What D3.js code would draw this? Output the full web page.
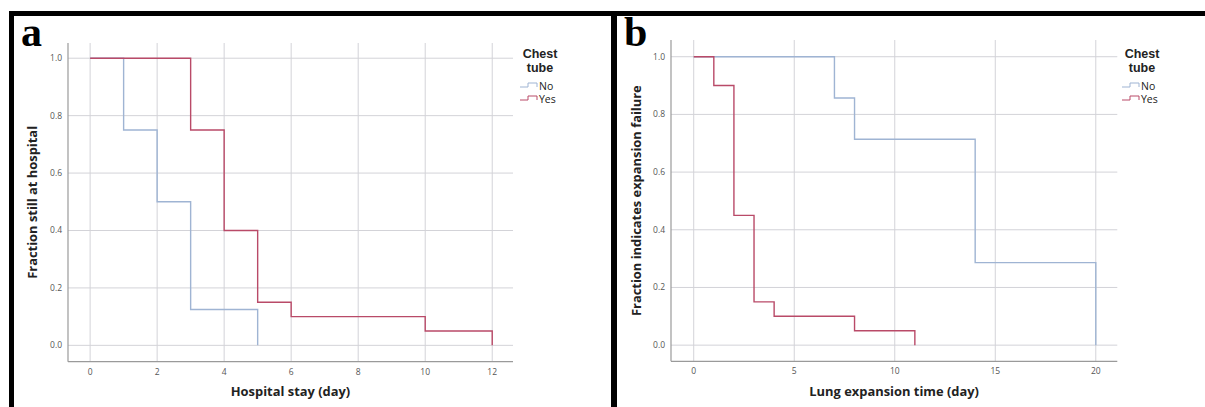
<!DOCTYPE html>
<html>
<head>
<meta charset="utf-8">
<script src="https://cdn.jsdelivr.net/npm/d3@7"></script>
<style>
  body { margin: 0; background: #fff; }
  svg { display: block; }
  .tick-label { font-family: "Open Sans", "DejaVu Sans", sans-serif; font-size: 8.5px; fill: #555; }
  .axis-title { font-family: "Open Sans", "DejaVu Sans", sans-serif; font-size: 12.9px; font-weight: bold; fill: #222; }
  .legend-title { font-family: "Liberation Sans", "DejaVu Sans", sans-serif; font-size: 12.5px; font-weight: bold; fill: #222; }
  .legend-item { font-family: "Open Sans", "DejaVu Sans", sans-serif; font-size: 10.5px; fill: #222; }
  .panel-letter { font-family: "Liberation Serif", "DejaVu Serif", serif; font-size: 42px; font-weight: bold; fill: #000; }
</style>
</head>
<body>
<svg id="chart" width="1205" height="407"></svg>
<script>
const width = 1205;
const height = 407;

// panel a: hospital stay, step functions (time, fraction)
const stayTimesNo = [0, 1, 2, 3, 5, 5];
const stayFracNo = [1.0, 0.75, 0.5, 0.125, 0.125, 0.0];
const stayTimesYes = [0, 3, 4, 5, 6, 10, 12, 12];
const stayFracYes = [1.0, 0.75, 0.4, 0.15, 0.1, 0.05, 0.05, 0.0];
const stayTicks = [0, 2, 4, 6, 8, 10, 12];

// panel b: lung expansion time
const lungTimesNo = [0, 7, 8, 14, 20, 20];
const lungFracNo = [1.0, 0.857, 0.714, 0.286, 0.286, 0.0];
const lungTimesYes = [0, 1, 2, 3, 4, 8, 11, 11];
const lungFracYes = [1.0, 0.9, 0.45, 0.15, 0.1, 0.05, 0.05, 0.0];
const lungTicks = [0, 5, 10, 15, 20];

const fracTicks = [0.0, 0.2, 0.4, 0.6, 0.8, 1.0];
const groups = ["No", "Yes"];
const legendTitle = ["Chest", "tube"];

const colors = { No: "#9fb4d3", Yes: "#b94a68" };

const svg = d3.select("#chart");

// black frame (top bar, left bar, middle divider)
svg.append("rect").attr("x", 9).attr("y", 11).attr("width", width - 9).attr("height", 5).attr("fill", "#000");
svg.append("rect").attr("x", 9).attr("y", 11).attr("width", 5).attr("height", height - 11).attr("fill", "#000");
svg.append("rect").attr("x", 611).attr("y", 11).attr("width", 6).attr("height", height - 11).attr("fill", "#000");

const panels = [
  {
    letter: "a", letterX: 21, letterY: 46,
    left: 68, right: 513, top: 43, bottom: 361.7,
    xDomain: [-0.66, 12.62], yDomain: [-0.057, 1.053],
    ticks: stayTicks,
    xTitle: "Hospital stay (day)", yTitle: "Fraction still at hospital",
    yTitleX: 33,
    legendX: 520,
    series: { No: [stayTimesNo, stayFracNo], Yes: [stayTimesYes, stayFracYes] }
  },
  {
    letter: "b", letterX: 624, letterY: 46,
    left: 671, right: 1117.3, top: 40, bottom: 361.3,
    xDomain: [-1.13, 21.07], yDomain: [-0.056, 1.058],
    ticks: lungTicks,
    xTitle: "Lung expansion time (day)", yTitle: "Fraction indicates expansion failure",
    yTitleX: 637,
    legendX: 1122,
    series: { No: [lungTimesNo, lungFracNo], Yes: [lungTimesYes, lungFracYes] }
  }
];

panels.forEach(drawPanel);

function drawPanel(p) {
  const x = d3.scaleLinear().domain(p.xDomain).range([p.left, p.right]);
  const y = d3.scaleLinear().domain(p.yDomain).range([p.bottom, p.top]);
  const g = svg.append("g");

  // grid
  g.selectAll("line.vgrid").data(p.ticks).enter().append("line")
    .attr("x1", d => x(d)).attr("x2", d => x(d))
    .attr("y1", p.top).attr("y2", p.bottom)
    .attr("stroke", "#d3d3d8").attr("stroke-width", 1);
  g.selectAll("line.hgrid").data(fracTicks).enter().append("line")
    .attr("x1", p.left).attr("x2", p.right)
    .attr("y1", d => y(d)).attr("y2", d => y(d))
    .attr("stroke", "#d3d3d8").attr("stroke-width", 1);

  // axis lines
  g.append("line").attr("x1", p.left).attr("x2", p.left).attr("y1", p.top).attr("y2", p.bottom)
    .attr("stroke", "#9a9a9a").attr("stroke-width", 1.2);
  g.append("line").attr("x1", p.left).attr("x2", p.right).attr("y1", p.bottom).attr("y2", p.bottom)
    .attr("stroke", "#9a9a9a").attr("stroke-width", 1.2);

  // tick labels
  g.selectAll("text.xt").data(p.ticks).enter().append("text")
    .attr("class", "tick-label")
    .attr("x", d => x(d)).attr("y", p.bottom + 13)
    .attr("text-anchor", "middle")
    .text(d => d);
  g.selectAll("text.yt").data(fracTicks).enter().append("text")
    .attr("class", "tick-label")
    .attr("x", p.left - 6).attr("y", d => y(d) + 3)
    .attr("text-anchor", "end")
    .text(d => d3.format(".1f")(d));

  // curves
  const line = d3.line().curve(d3.curveStepAfter).x(d => x(d[0])).y(d => y(d[1]));
  groups.forEach(function(k) {
    const pts = d3.zip(p.series[k][0], p.series[k][1]);
    g.append("path").datum(pts)
      .attr("d", line)
      .attr("fill", "none")
      .attr("stroke", colors[k])
      .attr("stroke-width", 1.4);
  });

  // titles
  g.append("text").attr("class", "axis-title")
    .attr("x", (p.left + p.right) / 2).attr("y", 396)
    .attr("text-anchor", "middle")
    .text(p.xTitle);
  g.append("text").attr("class", "axis-title")
    .attr("transform", "translate(" + (p.yTitleX + 4) + "," + ((p.top + p.bottom) / 2) + ") rotate(-90)")
    .attr("text-anchor", "middle")
    .text(p.yTitle);

  g.append("text").attr("class", "panel-letter")
    .attr("x", p.letterX).attr("y", p.letterY)
    .text(p.letter);

  // legend
  const lg = g.append("g").attr("transform", "translate(" + p.legendX + ",0)");
  legendTitle.forEach(function(t, i) {
    lg.append("text").attr("class", "legend-title")
      .attr("text-anchor", "middle")
      .attr("x", 20).attr("y", 58 + i * 14.2)
      .text(t);
  });
  groups.forEach(function(k, i) {
    const yy = 86 + i * 13;
    lg.append("path")
      .attr("d", "M0," + (yy + 1) + "H8V" + (yy - 3) + "H17V" + (yy + 1))
      .attr("fill", "none").attr("stroke", colors[k]).attr("stroke-width", 1);
    lg.append("text").attr("class", "legend-item")
      .attr("x", 19).attr("y", yy + 3.5).text(k);
  });
}
</script>
</body>
</html>
